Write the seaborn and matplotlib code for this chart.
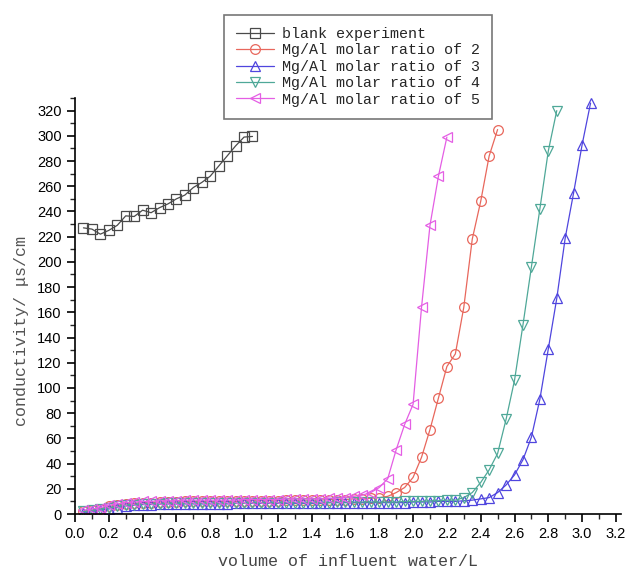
import numpy as np
import pandas as pd
import seaborn as sns
import matplotlib
matplotlib.use("Agg")
import matplotlib.pyplot as plt
from matplotlib.ticker import MultipleLocator, AutoMinorLocator

sns.set_theme(style="ticks")
plt.rcParams['font.family'] = ['Liberation Sans', 'DejaVu Sans']

# volume of influent water (L), sampled every 0.05 L
volume = [0.05, 0.10, 0.15, 0.20, 0.25, 0.30, 0.35, 0.40, 0.45, 0.50,
          0.55, 0.60, 0.65, 0.70, 0.75, 0.80, 0.85, 0.90, 0.95, 1.00,
          1.05, 1.10, 1.15, 1.20, 1.25, 1.30, 1.35, 1.40, 1.45, 1.50,
          1.55, 1.60, 1.65, 1.70, 1.75, 1.80, 1.85, 1.90, 1.95, 2.00,
          2.05, 2.10, 2.15, 2.20, 2.25, 2.30, 2.35, 2.40, 2.45, 2.50,
          2.55, 2.60, 2.65, 2.70, 2.75, 2.80, 2.85, 2.90, 2.95, 3.00,
          3.05]

blank = [227, 226, 222, 225, 229, 236.5, 236, 241, 239, 243,
         246, 250, 253, 259, 263, 268, 276, 284, 292, 299, 299.5]

ratio2 = [2, 3, 4, 6, 7, 8, 8.5, 9, 9, 9.5,
          9.5, 9.5, 10, 10, 10, 10, 10, 10, 10, 10.5,
          10.5, 10.5, 10.5, 10.5, 11, 11, 11, 11, 11, 11.5,
          11.5, 11.5, 12, 12, 12.5, 13,
          14, 17, 21, 29, 45, 67, 92, 117, 127, 164, 218, 248, 284, 305]

ratio3 = [1, 2, 3, 4, 5, 6.5, 7, 7.5, 7.5, 8,
          8, 8, 8, 8, 8, 8, 8, 8, 8.5, 8.5,
          8.5, 8.5, 8.5, 8.5, 8.5, 8.5, 8.5, 8.5, 8.5, 9,
          9, 9, 9, 9, 9, 9, 9, 9, 9, 9.5,
          9.5, 9.5, 10, 10, 10, 10.5, 11,
          12, 13, 17, 23, 31, 43, 61, 91, 131, 171, 219, 255, 293, 326]

ratio4 = [2, 3, 4, 5, 6, 7, 7.5, 8, 8, 8,
          8.5, 8.5, 8.5, 8.5, 8.5, 8.5, 8.5, 8.5, 8.5, 8.5,
          9, 9, 9, 9, 9, 9, 9, 9, 9, 9,
          9.5, 9.5, 9.5, 9.5, 9.5, 9.5, 9.5, 9.5, 10, 10,
          10, 10.5, 10.5, 11, 11,
          13, 17, 25, 35, 48, 75, 106, 150, 196, 242, 288, 320]

ratio5 = [3, 4, 5, 7, 8, 9, 9.5, 10, 10, 10.5,
          10.5, 10.5, 11, 11, 11, 11, 11, 11, 11, 11.5,
          11.5, 11.5, 11.5, 11.5, 12, 12, 12, 12, 12, 12.5,
          12.5, 13, 14, 15,
          17, 21, 28, 51, 71, 87, 164, 229, 268, 299]

series = [
    ("blank experiment", blank, "s", "#4a4a4a"),
    ("Mg/Al molar ratio of 2", ratio2, "o", "#e8675c"),
    ("Mg/Al molar ratio of 3", ratio3, "^", "#4f45de"),
    ("Mg/Al molar ratio of 4", ratio4, "v", "#4fa898"),
    ("Mg/Al molar ratio of 5", ratio5, "<", "#e45ee4"),
]

fig = plt.figure(figsize=(6.28, 5.71), dpi=100)
ax = fig.add_axes([75 / 628, 1 - 514 / 571, 546 / 628, 416 / 571])

for name, vals, mk, col in series:
    df = pd.DataFrame({"x": volume[:len(vals)], "y": vals})
    sns.lineplot(data=df, x="x", y="y", ax=ax, color=col, marker=mk,
                 markersize=7, mfc="none", mec=col, mew=0.9, lw=0.9,
                 errorbar=None, label=name)

handles, labels = ax.get_legend_handles_labels()
ax.get_legend().remove()

ax.set_xlim(0, 3.23)
ax.set_ylim(0, 330)
ax.xaxis.set_major_locator(MultipleLocator(0.2))
ax.xaxis.set_minor_locator(AutoMinorLocator(2))
ax.yaxis.set_major_locator(MultipleLocator(20))
ax.yaxis.set_minor_locator(AutoMinorLocator(2))
ax.xaxis.set_major_formatter(plt.FormatStrFormatter('%.1f'))
ax.tick_params(which="major", direction="out", length=6, width=1.2,
               labelsize=10.5, colors="black")
ax.tick_params(which="minor", direction="out", length=3.5, width=1.0)
sns.despine(ax=ax)
for s in ["left", "bottom"]:
    ax.spines[s].set_linewidth(1.2)
    ax.spines[s].set_color("black")

mono = ['Liberation Mono', 'DejaVu Sans Mono']
ax.set_xlabel("volume of influent water/L", family=mono, fontsize=12,
              color="#444444", labelpad=9)
ax.set_ylabel("conductivity/ μs/cm", family=mono, fontsize=12,
              color="#555555", labelpad=6)
ax.yaxis.set_label_coords(-0.085, 0.44)

leg = fig.legend(handles, labels, loc="upper left",
                 bbox_to_anchor=(224 / 628, 1 - 15 / 571),
                 prop={'family': mono, 'size': 10.8},
                 frameon=True, fancybox=False, edgecolor="#777777",
                 handlelength=2.5, handletextpad=0.55, labelspacing=0.16,
                 borderpad=0.8, borderaxespad=0, framealpha=1)
leg.get_frame().set_linewidth(1.2)

fig.savefig("out.png", dpi=100)
